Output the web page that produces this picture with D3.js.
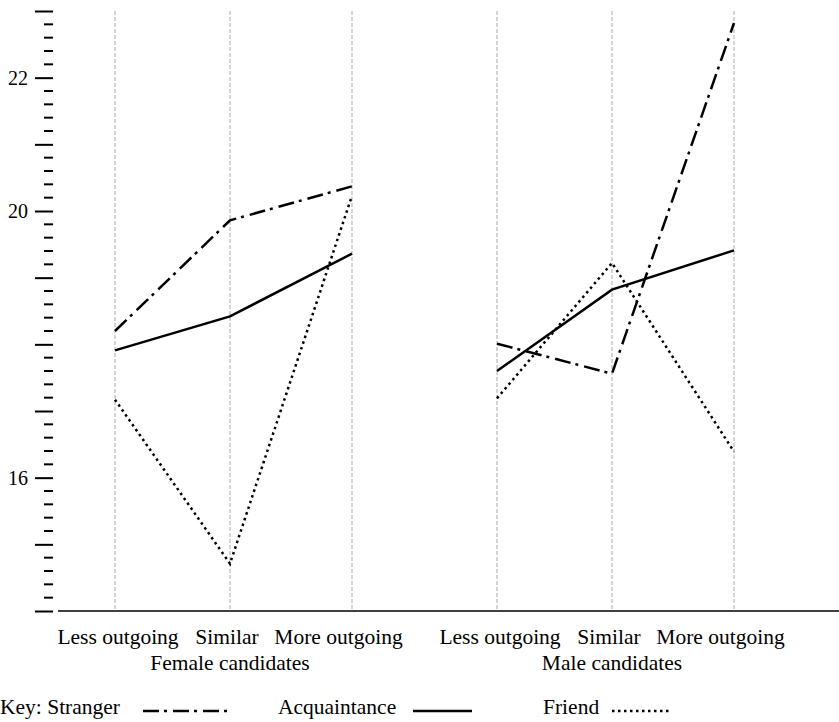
<!DOCTYPE html>
<html>
<head>
<meta charset="utf-8">
<script src="https://cdn.jsdelivr.net/npm/d3@7"></script>
<style>
  html, body { margin: 0; padding: 0; background: #fff; }
</style>
</head>
<body>
<svg id="chart" width="839" height="722"></svg>
<script>
// Mean ratings by how outgoing the candidate is, split by candidate sex
const groups = ["Female candidates", "Male candidates"];
const categories = ["Less outgoing", "Similar", "More outgoing"];
const seriesNames = ["Stranger", "Acquaintance", "Friend"];

const femaleStranger     = [18.20, 19.86, 20.37];
const femaleAcquaintance = [17.91, 18.42, 19.36];
const femaleFriend       = [17.17, 14.71, 20.23];
const maleStranger       = [18.01, 17.56, 22.82];
const maleAcquaintance   = [17.60, 18.82, 19.41];
const maleFriend         = [17.19, 19.22, 16.39];

const yTickLabels = [16, 20, 22];

const series = [
  { name: "Stranger",     values: [femaleStranger, maleStranger] },
  { name: "Acquaintance", values: [femaleAcquaintance, maleAcquaintance] },
  { name: "Friend",       values: [femaleFriend, maleFriend] }
];

const lineStyle = {
  "Stranger":     "16,5,3,6",
  "Acquaintance": null,
  "Friend":       "2.5,3.5"
};

const FONT = "'Liberation Serif', 'Times New Roman', serif";
const FS = "21.5px";

const svg = d3.select("#chart");

// Scales
const y = d3.scaleLinear().domain([14, 23]).range([611, 11]);
const groupX = d3.scaleLinear().domain([0, 1]).range([115, 497]);
const slotX = d3.scaleOrdinal().domain(categories).range([0, 115, 237]);
const xPos = (g, c) => groupX(g) + slotX(c);

function label(x, yy, txt, anchor) {
  return svg.append("text")
    .attr("x", x).attr("y", yy)
    .attr("text-anchor", anchor || "start")
    .attr("font-family", FONT)
    .attr("font-size", FS)
    .attr("fill", "#000")
    .text(txt);
}

// Category guide lines
groups.forEach((g, gi) => {
  categories.forEach(c => {
    svg.append("line")
      .attr("x1", xPos(gi, c)).attr("x2", xPos(gi, c))
      .attr("y1", y(23)).attr("y2", y(14))
      .attr("stroke", "#aaaaaa").attr("stroke-width", 1)
      .attr("stroke-dasharray", "4,2");
  });
});

// Baseline
svg.append("line")
  .attr("x1", 58).attr("x2", 839)
  .attr("y1", y(14)).attr("y2", y(14))
  .attr("stroke", "#000").attr("stroke-width", 1.5);

// Y axis: major ticks every unit, minor every 0.2, labels on selected values
const yAxis = d3.axisLeft(y)
  .tickValues(d3.range(14, 23.001, 1))
  .tickSize(18)
  .tickFormat(d => yTickLabels.includes(d) ? d : "");
const ya = svg.append("g").attr("transform", "translate(53,0)").call(yAxis);
ya.attr("font-family", FONT).attr("font-size", "20px");
ya.select(".domain").remove();
ya.selectAll(".tick line").attr("stroke", "#000").attr("stroke-width", 2);
ya.selectAll(".tick text")
  .attr("x", -25)
  .attr("font-family", FONT)
  .attr("font-size", "20px")
  .attr("fill", "#000");

const minorVals = d3.range(0, 46).map(i => 14 + i * 0.2).filter(v => Math.abs(v - Math.round(v)) > 0.01);
svg.append("g").selectAll("line").data(minorVals).join("line")
  .attr("x1", 44).attr("x2", 53)
  .attr("y1", d => y(d)).attr("y2", d => y(d))
  .attr("stroke", "#000").attr("stroke-width", 2);

// Series lines, drawn separately within each candidate group
const line = d3.line()
  .x(d => d.x)
  .y(d => y(d.v));

series.forEach(s => {
  s.values.forEach((vals, gi) => {
    const pts = vals.map((v, i) => ({ x: xPos(gi, categories[i]), v }));
    svg.append("path")
      .datum(pts)
      .attr("d", line)
      .attr("fill", "none")
      .attr("stroke", "#000")
      .attr("stroke-width", 2.5)
      .attr("stroke-dasharray", lineStyle[s.name]);
  });
});

// Category labels under each group
const labelShift = [3, -3, -13.5];
groups.forEach((g, gi) => {
  categories.forEach((c, ci) => {
    label(xPos(gi, c) + labelShift[ci], 644, c, "middle");
  });
  label(xPos(gi, categories[1]), 670, g, "middle");
});

// Key
const legendY = 714;
label(0, legendY, "Key: Stranger");
label(278, legendY, "Acquaintance");
label(543, legendY, "Friend");
const keySamples = [
  { name: "Stranger", x1: 143, x2: 227 },
  { name: "Acquaintance", x1: 413, x2: 472 },
  { name: "Friend", x1: 612, x2: 672 }
];
keySamples.forEach(k => {
  svg.append("line")
    .attr("x1", k.x1).attr("x2", k.x2)
    .attr("y1", legendY - 3).attr("y2", legendY - 3)
    .attr("stroke", "#000").attr("stroke-width", 2.5)
    .attr("stroke-dasharray", lineStyle[k.name]);
});
</script>
</body>
</html>
